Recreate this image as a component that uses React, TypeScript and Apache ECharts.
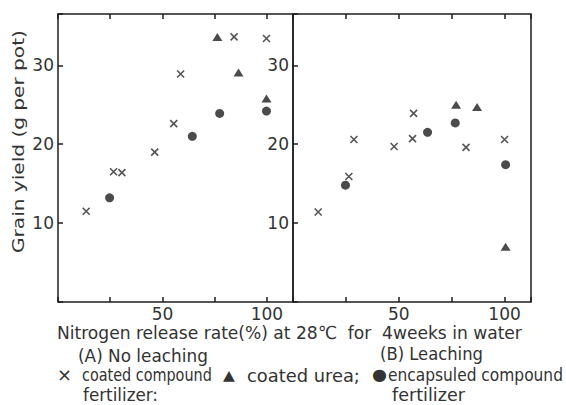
import React, { useEffect, useRef } from "react";
import * as echarts from "echarts";

// Axis settings (values)
const xMin = 0;
const xMax = 112.5;
const xStep = 25;
const xLabelled = [50, 100];
const yMin = 0;
const yMax = 36.5;
const yStep = 10;
const yLabelled = [10, 20, 30];

// (A) No leaching
const aCrossX = [13.5, 26.6, 30.6, 46.3, 55.4, 58.7, 84.3, 99.8];
const aCrossY = [11.5, 16.5, 16.4, 19.0, 22.6, 28.9, 33.6, 33.4];
const aTriX = [76.3, 86.4, 99.8];
const aTriY = [33.6, 29.1, 25.8];
const aDotX = [24.7, 64.3, 77.4, 99.8];
const aDotY = [13.2, 21.0, 23.9, 24.2];

// (B) Leaching
const bCrossX = [11.9, 26.4, 28.8, 47.8, 56.5, 57.0, 81.8, 100.0];
const bCrossY = [11.4, 15.9, 20.6, 19.7, 20.7, 23.9, 19.6, 20.6];
const bTriX = [77.1, 87.0, 100.5];
const bTriY = [25.0, 24.7, 7.0];
const bDotX = [24.8, 63.6, 76.7, 100.5];
const bDotY = [14.8, 21.5, 22.7, 17.4];

const xTitle = "Nitrogen release rate(%) at 28℃  for  4weeks in water";
const yTitle = "Grain yield (g per pot)";
const panelA = "(A) No leaching";
const panelB = "(B) Leaching";
const legCross = "×";
const legCrossText = "coated compound";
const legTri = "▲";
const legTriText = "coated urea;";
const legDot = "●";
const legDotText = "encapsuled compound";
const legLine2a = "fertilizer:";
const legLine2b = "fertilizer";

const FONT = "'DejaVu Sans', 'Noto Sans CJK JP', sans-serif";
const NFONT = "'DejaVu Sans Condensed', 'Liberation Sans Narrow', 'DejaVu Sans', sans-serif";
const INK = "#1e1e1e";
const TXT = "#333333";

const zip = (xs: number[], ys: number[]) => xs.map((x, i) => [x, ys[i]]);

const CROSS = "path://M0,0L10,10M10,0L0,10";

let measureCtx: CanvasRenderingContext2D | null = null;
function measure(text: string, font: string): number {
  if (!measureCtx) measureCtx = document.createElement("canvas").getContext("2d");
  if (!measureCtx) return 1;
  measureCtx.font = font;
  return measureCtx.measureText(text).width || 1;
}

// text element starting at x0, horizontally scaled (within limits) to end at x1
function fitText(text: string, x0: number, x1: number, y: number, size: number, lo = 0.7, hi = 1.2, family = NFONT) {
  const font = `${size}px ${family}`;
  const w = measure(text, font);
  const s = Math.min(hi, Math.max(lo, (x1 - x0) / w));
  return {
    type: "text",
    x: x0,
    y,
    scaleX: s,
    style: { text, fill: TXT, font, align: "left", verticalAlign: "middle" },
  };
}

export default function App() {
  const ref = useRef<HTMLDivElement>(null);
  useEffect(() => {
    if (!ref.current) return;
    const chart = echarts.init(ref.current, undefined, { renderer: "svg" });

    const makeX = (grid: number, top: boolean) => ({
      type: "value" as const,
      gridIndex: grid,
      position: top ? "top" : "bottom",
      min: xMin,
      max: xMax,
      interval: xStep,
      axisLine: { show: false },
      axisTick: { show: true, inside: true, length: 5, lineStyle: { color: INK, width: 1.5 } },
      axisLabel: {
        show: !top,
        margin: 3,
        color: TXT,
        fontSize: 17,
        fontFamily: FONT,
        formatter: (v: number) => (xLabelled.includes(v) ? String(v) : ""),
      },
      splitLine: { show: false },
    });
    const makeY = (grid: number) => ({
      type: "value" as const,
      gridIndex: grid,
      position: "left",
      min: yMin,
      max: yMax,
      interval: yStep,
      axisLine: { show: false },
      axisTick: { show: true, inside: true, length: 5, lineStyle: { color: INK, width: 1.5 } },
      axisLabel: {
        margin: 4,
        color: TXT,
        fontSize: 17,
        fontFamily: FONT,
        formatter: (v: number) => (yLabelled.includes(v) ? String(v) : ""),
      },
      splitLine: { show: false },
    });

    const axes = (x: number, y: number) => ({ xAxisIndex: x, yAxisIndex: y });
    const crossStyle = {
      symbol: CROSS,
      symbolSize: 7,
      itemStyle: { color: "none", borderColor: "#2a2a2a", borderWidth: 1.6 },
    };
    const triStyle = { symbol: "triangle", symbolSize: [10, 8], itemStyle: { color: INK } };
    const dotStyle = { symbol: "circle", symbolSize: 9, itemStyle: { color: INK } };

    const yT = fitText(yTitle, 30, 253, 18, 16, 0.7, 1.3, FONT);
    const yTitleEl = {
      type: "text",
      x: 18,
      y: 253,
      rotation: Math.PI / 2,
      scaleX: yT.scaleX,
      style: { ...yT.style, align: "left", verticalAlign: "middle" },
    };

    chart.setOption({
      animation: false,
      backgroundColor: "#fff",
      grid: [
        { left: 58, top: 14, width: 235, height: 288, show: true, borderColor: INK, borderWidth: 1.5, backgroundColor: "transparent" },
        { left: 293, top: 14, width: 238, height: 288, show: true, borderColor: INK, borderWidth: 1.5, backgroundColor: "transparent" },
      ],
      xAxis: [makeX(0, false), makeX(1, false), makeX(0, true), makeX(1, true)],
      yAxis: [makeY(0), makeY(1)],
      series: [
        { type: "scatter", name: "A cross", ...axes(0, 0), ...crossStyle, data: zip(aCrossX, aCrossY) },
        { type: "scatter", name: "A tri", ...axes(0, 0), ...triStyle, data: zip(aTriX, aTriY) },
        { type: "scatter", name: "A dot", ...axes(0, 0), ...dotStyle, data: zip(aDotX, aDotY) },
        { type: "scatter", name: "B cross", ...axes(1, 1), ...crossStyle, data: zip(bCrossX, bCrossY) },
        { type: "scatter", name: "B tri", ...axes(1, 1), ...triStyle, data: zip(bTriX, bTriY) },
        { type: "scatter", name: "B dot", ...axes(1, 1), ...dotStyle, data: zip(bDotX, bDotY) },
      ],
      graphic: [
        yTitleEl,
        fitText(xTitle, 57, 522, 333, 18),
        fitText(panelA, 78, 208, 356, 18),
        fitText(panelB, 380, 483, 354, 18),
        fitText(legCross, 57, 72, 375, 17, 0.9, 1.1, FONT),
        fitText(legCrossText, 82, 212, 375, 18),
        fitText(legTri, 223, 237, 375, 14, 0.9, 1.1, FONT),
        fitText(legTriText, 247, 360, 375, 18),
        fitText(legDot, 372, 387, 375, 16, 0.9, 1.1, FONT),
        fitText(legDotText, 388, 563, 375, 18),
        fitText(legLine2a, 83, 158, 395, 17),
        fitText(legLine2b, 392, 465, 395, 17),
      ],
    });
    return () => chart.dispose();
  }, []);

  return (
    <div
      ref={ref}
      style={{ width: 566, height: 405, position: "absolute", left: 0, top: 0 }}
    />
  );
}
